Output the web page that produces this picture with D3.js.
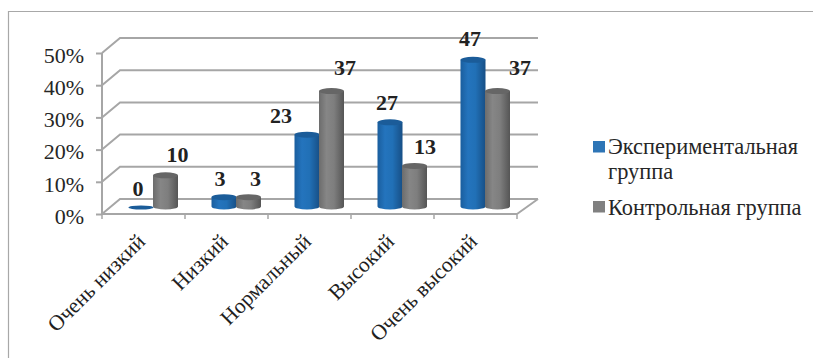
<!DOCTYPE html>
<html><head><meta charset="utf-8">
<script src="https://cdn.jsdelivr.net/npm/d3@7"></script>
<style>
html,body{margin:0;padding:0;background:#fff}
svg{display:block}
svg text{font-family:"Liberation Serif","Times New Roman",serif !important}
</style></head><body>
<svg id="chart" width="813" height="358"></svg>
<script>
const categories = ["Очень низкий","Низкий","Нормальный","Высокий","Очень высокий"];
const seriesNames = ["Экспериментальная группа","Контрольная группа"];
const experimental = [0,3,23,27,47];
const control = [10,3,37,13,37];
const percentTicks = [0,10,20,30,40,50];

// hand-placed nudges for the value labels, one [dx, baseline dy] per bar
const experimentalLabelNudge = [[-3,-10.5],[-4,-11],[-26,-12],[-3,-12],[-3,-14]];
const controlLabelNudge = [[12,-13],[7,-11],[13.5,-16],[10.5,-12],[22.5,-16]];

const svg = d3.select("#chart");
const defs = svg.append("defs");

function cylinderGradient(id, stops){
  const g = defs.append("linearGradient").attr("id", id);
  stops.forEach(([o,c]) => g.append("stop").attr("offset", o).attr("stop-color", c));
}
cylinderGradient("blueBody", [[0,"#1a5e9e"],[.3,"#2474bd"],[.6,"#2170b6"],[1,"#174f86"]]);
cylinderGradient("greyBody", [[0,"#6c6c6c"],[.3,"#868686"],[.6,"#7e7e7e"],[1,"#555555"]]);

// outer chart border: only the top and left edges are drawn
svg.append("path").attr("d","M8.5,358V11.5H813")
  .attr("fill","none").attr("stroke","#a8a8a8").attr("stroke-width",1.2);

// scales: front plane of the box, and the plane the cylinders stand in
const xFront = d3.scaleBand().domain(categories).range([102,517]);
const yFront = d3.scaleLinear().domain([0,50]).range([214,53]);
const yBar = d3.scaleLinear().domain([0,50]).range([206.5,50.5]);
const depthX = 18, depthY = 15;
const gridColor = "#a6a6a6";

// back wall lines and the side-wall diagonals
const grid = svg.append("g").attr("fill","none").attr("stroke",gridColor).attr("stroke-width",2);
percentTicks.forEach(t => {
  const y = yFront(t);
  grid.append("path").attr("d", `M102,${y}L${102+depthX},${y-depthY}L538,${y-depthY}`);
});
grid.append("path").attr("d", `M517,214L538,${214-depthY}`);

// left axis
const yAxis = d3.axisLeft(yFront).tickValues(percentTicks).tickFormat(d => d + "%").tickSize(6).tickPadding(12);
const yG = svg.append("g").attr("transform","translate(102,0)").call(yAxis);
yG.select(".domain").attr("stroke",gridColor).attr("stroke-width",2).attr("d","M0,53V214");
yG.selectAll(".tick line").attr("stroke",gridColor).attr("stroke-width",2);
yG.selectAll("text").attr("font-size",22).attr("fill","#262626").attr("dy","0.42em");

// bottom axis with tick marks on the category boundaries
const xG = svg.append("g").attr("transform","translate(0,214)");
xG.append("path").attr("d","M102,0H517").attr("stroke",gridColor).attr("stroke-width",2).attr("fill","none");
const boundaries = categories.map(c => xFront(c)).concat(xFront.range()[1]);
xG.selectAll("line.mark").data(boundaries).join("line").attr("class","mark")
  .attr("x1",d=>d).attr("x2",d=>d).attr("y1",0).attr("y2",5)
  .attr("stroke",gridColor).attr("stroke-width",1.5);
xG.selectAll("text.cat").data(categories).join("text").attr("class","cat")
  .attr("transform", c => `translate(${xFront(c)+xFront.bandwidth()/2-2.5},${23.5}) rotate(-45)`)
  .attr("text-anchor","end").attr("font-size",21.5).attr("fill","#1f1f1f").attr("dy","0.35em").text(c=>c);

// cylinders
const barWidth = 25, ry = 3;
const barCenter = (i, s) => xFront(categories[i]) + 39 + (s === 0 ? 0 : 24.5);
function drawBars(values, s, body, cap){
  const g = svg.append("g").attr("class","series-"+s);
  values.forEach((v,i) => {
    const cx = barCenter(i,s), rx = barWidth/2, top = yBar(v), base = yBar(0);
    if (v === 0){
      g.append("ellipse").attr("cx",cx).attr("cy",base+1).attr("rx",rx).attr("ry",2).attr("fill",cap);
      return;
    }
    g.append("path").attr("fill",`url(#${body})`)
      .attr("d",`M${cx-rx},${top}V${base}A${rx},${ry} 0 0 0 ${cx+rx},${base}V${top}Z`);
    g.append("ellipse").attr("cx",cx).attr("cy",top).attr("rx",rx).attr("ry",ry).attr("fill",cap);
  });
}
drawBars(experimental,0,"blueBody","#1b5c99");
drawBars(control,1,"greyBody","#666666");

// value labels
function drawLabels(values, s, nudge){
  svg.append("g").selectAll("text").data(values).join("text")
    .attr("x",(v,i)=>barCenter(i,s)+nudge[i][0])
    .attr("y",(v,i)=>yBar(v)+nudge[i][1])
    .attr("text-anchor","middle").attr("font-size",22).attr("font-weight","bold").attr("fill","#222")
    .text(v=>v);
}
drawLabels(experimental,0,experimentalLabelNudge);
drawLabels(control,1,controlLabelNudge);

// legend
const legend = svg.append("g").attr("font-size",22.4).attr("fill","#262626");
const colours = ["#2e75b6","#808080"];
legend.append("rect").attr("x",593).attr("y",141).attr("width",12).attr("height",11.5).attr("fill",colours[0]);
legend.append("rect").attr("x",593).attr("y",201).attr("width",12).attr("height",11.5).attr("fill",colours[1]);
legend.append("text").attr("x",608).attr("y",154).text(seriesNames[0].split(" ")[0]);
legend.append("text").attr("x",608).attr("y",179).text(seriesNames[0].split(" ")[1]);
legend.append("text").attr("x",608).attr("y",215).text(seriesNames[1]);
</script>
</body></html>
